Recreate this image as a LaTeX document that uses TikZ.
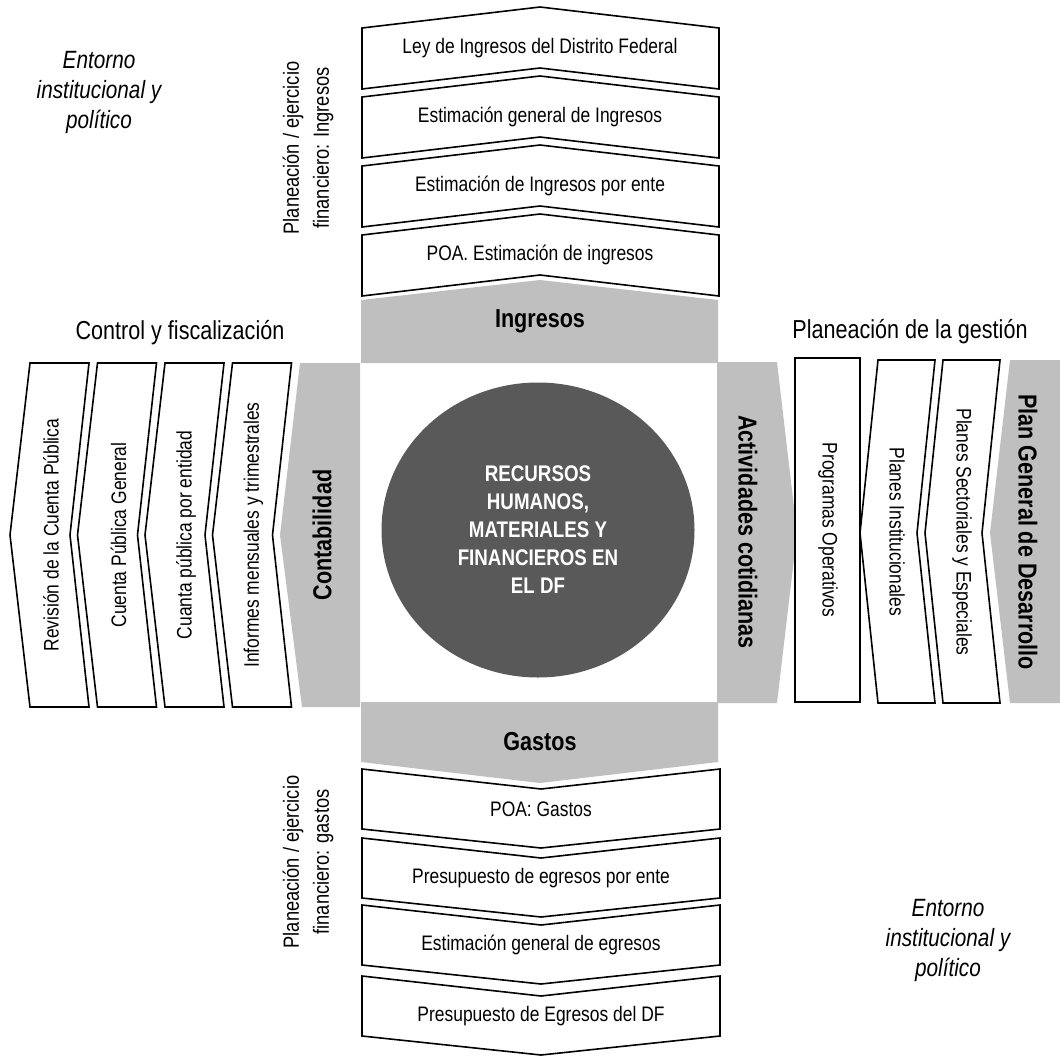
\documentclass[tikz,border=0pt]{standalone}
\usepackage{fontspec}
\setmainfont{Liberation Sans}[FakeStretch=0.83]
\usepackage{tikz}
\usetikzlibrary{shapes.geometric}
\definecolor{hubgray}{RGB}{191,191,191}
\definecolor{coregray}{RGB}{89,89,89}
\tikzset{
  stepchev/.style={draw=black,fill=white,line width=0.8pt,line join=miter},
  hubarrow/.style={fill=hubgray,draw=none},
  steptext/.style={font=\fontsize{10.5}{12}\selectfont,align=center,inner sep=0pt},
  hubtext/.style={font=\fontsize{13}{15}\selectfont\bfseries,inner sep=0pt},
  headtext/.style={font=\fontsize{13}{15}\selectfont,inner sep=0pt},
  envtext/.style={font=\fontsize{12.5}{15}\selectfont\itshape,align=center,inner sep=0pt},
  sidetext/.style={font=\fontsize{11}{15}\selectfont,align=center,rotate=90,inner sep=0pt},
  core/.style={ellipse,fill=coregray,draw=none,minimum width=156.5pt,minimum height=147.5pt,
    text=white,align=center,font=\fontsize{11.3}{14}\selectfont\bfseries}
}

\begin{document}
\begin{tikzpicture}[x=0.5pt,y=-0.5pt]
  \useasboundingbox (0,0) rectangle (1060,1055);
  % ingresos (top)
  \foreach \t/\nm/\txt in {28/ley/{Ley de Ingresos del Distrito Federal},
      97/estgen/{Estimación general de Ingresos},
      166/estente/{Estimación de Ingresos por ente},
      235/poaing/{POA. Estimación de ingresos}}{
    \draw[stepchev] (362,\t) -- (540,\t-21) -- (719,\t) -- (719,\t+61)
      -- (540,\t+40) -- (362,\t+61) -- cycle;
    \node[steptext] (\nm) at (540,\t+20) {\txt};
  }
  \fill[hubarrow] (361,300) -- (540,280) -- (718,300) -- (718,363) -- (361,363) -- cycle;
  \node[hubtext] (ingresos) at (540,321) {Ingresos};
  % gastos (bottom)
  \fill[hubarrow] (361,702) -- (718,702) -- (718,762) -- (540,783) -- (361,762) -- cycle;
  \node[hubtext] (gastos) at (540,742) {Gastos};
  \foreach \t/\nm/\txt in {769/poagas/{POA: Gastos},
      838/presente/{Presupuesto de egresos por ente},
      905/estegr/{Estimación general de egresos},
      976/presdf/{Presupuesto de Egresos del DF}}{
    \draw[stepchev] (362,\t) -- (541,\t+20) -- (720,\t) -- (720,\t+60)
      -- (541,\t+79) -- (362,\t+60) -- cycle;
    \node[steptext] (\nm) at (541,\t+40) {\txt};
  }
  % control (left)
  \foreach \l/\nm/\txt in {30/revision/{Revisión de la Cuenta Pública},
      97.5/cpgen/{Cuenta Pública General},
      165/cpent/{Cuanta pública por entidad},
      232.5/informes/{Informes mensuales y trimestrales}}{
    \draw[stepchev] (\l,363) -- (\l+59,363) -- (\l+40,535) -- (\l+59,707)
      -- (\l,707) -- (\l-20,535) -- cycle;
    \node[steptext,rotate=90] (\nm) at (\l+21,535) {\txt};
  }
  \fill[hubarrow] (300,363) -- (360,363) -- (360,707) -- (302,707) -- (280,535) -- cycle;
  \node[hubtext,rotate=90] (contab) at (322,535) {Contabilidad};
  % gestion (right)
  \fill[hubarrow] (717,362) -- (777,362) -- (797,533) -- (777,703) -- (717,703) -- cycle;
  \node[hubtext,rotate=-90] (activ) at (748,532) {Actividades cotidianas};
  \draw[stepchev] (795,358) rectangle (860,702);
  \node[steptext,rotate=-90] (progop) at (828,530) {Programas Operativos};
  \foreach \l/\nm/\txt in {878/planinst/{Planes Institucionales},
      943/plansect/{Planes Sectoriales y Especiales}}{
    \draw[stepchev] (\l,360) -- (\l+57,360) -- (\l+39,533) -- (\l+57,703)
      -- (\l,703) -- (\l-18,533) -- cycle;
    \node[steptext,rotate=-90] (\nm) at (\l+19,532) {\txt};
  }
  \fill[hubarrow] (1010,360) -- (1060,360) -- (1060,703) -- (1010,703) -- (990,533) -- cycle;
  \node[hubtext,rotate=-90] (plangen) at (1028,532) {Plan General de Desarrollo};
  % centre
  \node[core] (recursos) at (538,530)
    {RECURSOS\\HUMANOS,\\MATERIALES Y\\FINANCIEROS EN\\EL DF};
  % labels
  \node[headtext] (control) at (180,333) {Control y fiscalización};
  \node[headtext] (gestion) at (910,332) {Planeación de la gestión};
  \node[sidetext] (planing) at (308,148) {Planeación / ejercicio\\financiero: Ingresos};
  \node[sidetext] (plangas) at (308,862) {Planeación / ejercicio\\financiero: gastos};
  \node[envtext] (envtop) at (99,92) {Entorno\\institucional y\\político};
  \node[envtext] (envbot) at (948,940) {Entorno\\institucional y\\político};
\end{tikzpicture}
\end{document}
